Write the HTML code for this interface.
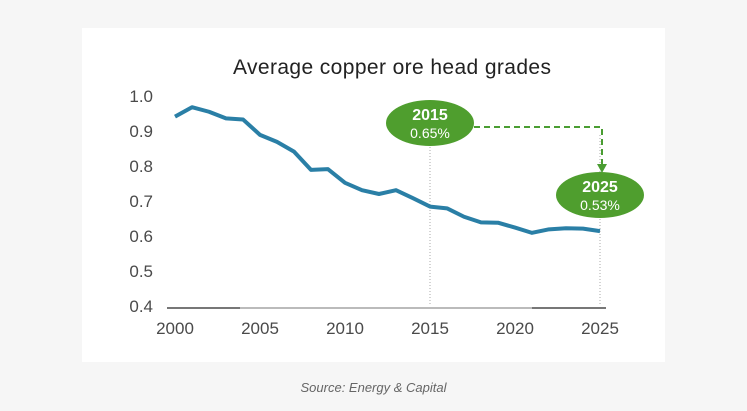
<!DOCTYPE html>
<html><head><meta charset="utf-8"><style>
body{margin:0;width:747px;height:411px;background:#f6f6f6;font-family:"Liberation Sans",sans-serif;overflow:hidden;position:relative}
#card{position:absolute;left:82px;top:28px;width:583px;height:334px;background:#fff}
#src{position:absolute;left:0;width:747px;top:380px;text-align:center;font-style:italic;font-size:13px;color:#666}
svg{position:absolute;left:0;top:0}
</style></head><body>
<div id="card"></div>
<svg width="747" height="411" id="chart"></svg>
<div id="src">Source: Energy &amp; Capital</div>
<script>
const years=[2000,2001,2002,2003,2004,2005,2006,2007,2008,2009,2010,2011,2012,2013,2014,2015,2016,2017,2018,2019,2020,2021,2022,2023,2024,2025];
const grades=[0.941,0.968,0.955,0.936,0.933,0.889,0.869,0.841,0.789,0.791,0.752,0.731,0.72,0.731,0.708,0.684,0.679,0.655,0.639,0.638,0.624,0.609,0.619,0.622,0.621,0.614];
const yTicks=[0.4,0.5,0.6,0.7,0.8,0.9,1.0];
const xTicks=[2000,2005,2010,2015,2020,2025];
const ns="http://www.w3.org/2000/svg",svg=document.getElementById('chart');
const X=y=>175+(y-2000)*(425/25);
const Y=v=>96+(1.0-v)*350;
function mk(t,a,txt){const e=document.createElementNS(ns,t);for(const k in a)e.setAttribute(k,a[k]);if(txt!=null)e.textContent=txt;svg.appendChild(e);return e;}
let e=mk('text',{x:392,y:74,'text-anchor':'middle','font-size':21,fill:'#222',textLength:318},'Average copper ore head grades');


yTicks.forEach(v=>{const t=mk('text',{x:153,y:Y(v)+6,'text-anchor':'end','font-size':17,fill:'#4a4a4a'},v.toFixed(1));

});
xTicks.forEach(v=>{const t=mk('text',{x:X(v),y:334,'text-anchor':'middle','font-size':17,fill:'#4a4a4a'},String(v));

});
e=mk('line',{x1:167,x2:606,y1:Y(0.4)+2,y2:Y(0.4)+2,stroke:'#bbb','stroke-width':2});


mk('line',{x1:167,x2:240,y1:Y(0.4)+2,y2:Y(0.4)+2,stroke:'#777','stroke-width':2});
mk('line',{x1:532,x2:606,y1:Y(0.4)+2,y2:Y(0.4)+2,stroke:'#777','stroke-width':2});
[2015,2025].forEach(v=>{const l=mk('line',{x1:X(v),x2:X(v),y1:135,y2:Y(0.4),stroke:'#aaa','stroke-width':1,'stroke-dasharray':'1,2'});

});
e=mk('polyline',{points:years.map((y,i)=>X(y)+','+Y(grades[i])).join(' '),fill:'none',stroke:'#2a7fa6','stroke-width':4,'stroke-linejoin':'round'});


e=mk('polyline',{points:'474,127 602,127 602,165',fill:'none',stroke:'#4a9d32','stroke-width':2,'stroke-dasharray':'6,4'});


mk('polygon',{points:'597,164 607,164 602,173',fill:'#4a9d32'});
[[430,123,'2015','0.65%'],[600,195,'2025','0.53%']].forEach(b=>{
const g=mk('ellipse',{cx:b[0],cy:b[1],rx:44,ry:23,fill:'#4f9e2e'});


mk('text',{x:b[0],y:b[1]-3,'text-anchor':'middle','font-size':16,'font-weight':'bold',fill:'#fff'},b[2]);
mk('text',{x:b[0],y:b[1]+15,'text-anchor':'middle','font-size':14,fill:'#fff'},b[3]);});
</script>
</body></html>
